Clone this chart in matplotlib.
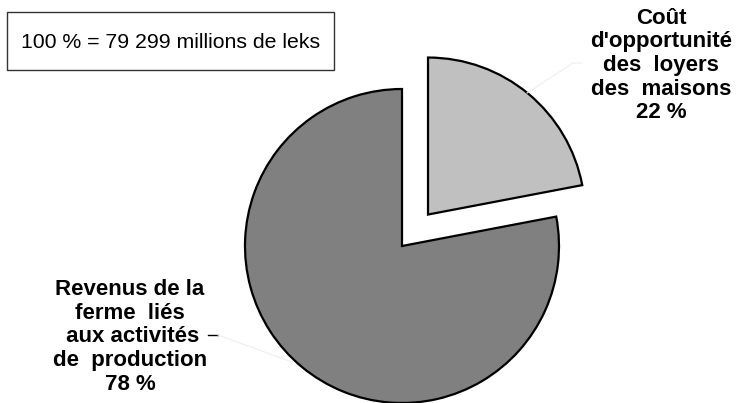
import matplotlib
matplotlib.use("Agg")
import matplotlib.pyplot as plt
from matplotlib.patches import Rectangle

# Data
categories = ["Coût\nd'opportunité\ndes  loyers\ndes  maisons", "Revenus de la\nferme  liés\n aux activités\nde  production"]
shares = [22, 78]
pct_labels = ["22 %", "78 %"]
total_note = "100 % = 79 299 millions de leks"

colors = ["#c0c0c0", "#808080"]

W, H = 736, 403
fig = plt.figure(figsize=(W / 100, H / 100), dpi=100)
ax = fig.add_axes([0, 0, 1, 1])

R = 157.0
cx, cy = 402.0, H - 246.0

ax.pie(shares, colors=colors, startangle=90, counterclock=False,
       radius=1.0, center=(0, 0), explode=[0.26, 0.0],
       wedgeprops=dict(edgecolor="black", linewidth=1.6))

def px(x, y):
    # pixel coords (from top-left) -> data coords (radius units)
    return ((x - cx) / R, ((H - y) - cy) / R)

x0, y0 = px(0, H)
x1, y1 = px(W, 0)
ax.set_xlim(x0, x1)
ax.set_ylim(y0, y1)
ax.set_aspect("equal", adjustable="box")
ax.axis("off")

fam = ["Liberation Sans", "DejaVu Sans"]

# Note box
bx0, by0 = px(7, 70)
bx1, by1 = px(334, 12)
ax.add_patch(Rectangle((bx0, by0), bx1 - bx0, by1 - by0, facecolor="white",
                       edgecolor="#333333", linewidth=1.0))
tx, ty = px(171, 42)
ax.text(tx, ty, total_note, ha="center", va="center", fontsize=15.3,
        family=fam, color="black")

# Labels
lx, ly = px(661, 65.5)
ax.text(lx, ly, categories[0] + "\n" + pct_labels[0], ha="center", va="center",
        fontsize=16, fontweight="bold", family=fam, linespacing=1.16)
lx2, ly2 = px(130, 337)
ax.text(lx2, ly2, categories[1] + "\n" + pct_labels[1], ha="center", va="center",
        fontsize=16, fontweight="bold", family=fam, linespacing=1.16)

# leader lines
a, b = px(208, 335); c, d = px(218, 335)
ax.plot([a, c], [b, d], color="black", lw=1.0)
e, f = px(292, 362)
ax.plot([c, e], [d, f], color="#eeeeee", lw=0.8)
g, h = px(527, 93); i, j = px(573, 63); k, l = px(582, 63)
ax.plot([g, i, k], [h, j, l], color="#eeeeee", lw=0.8)

fig.savefig("out.png", dpi=100)
